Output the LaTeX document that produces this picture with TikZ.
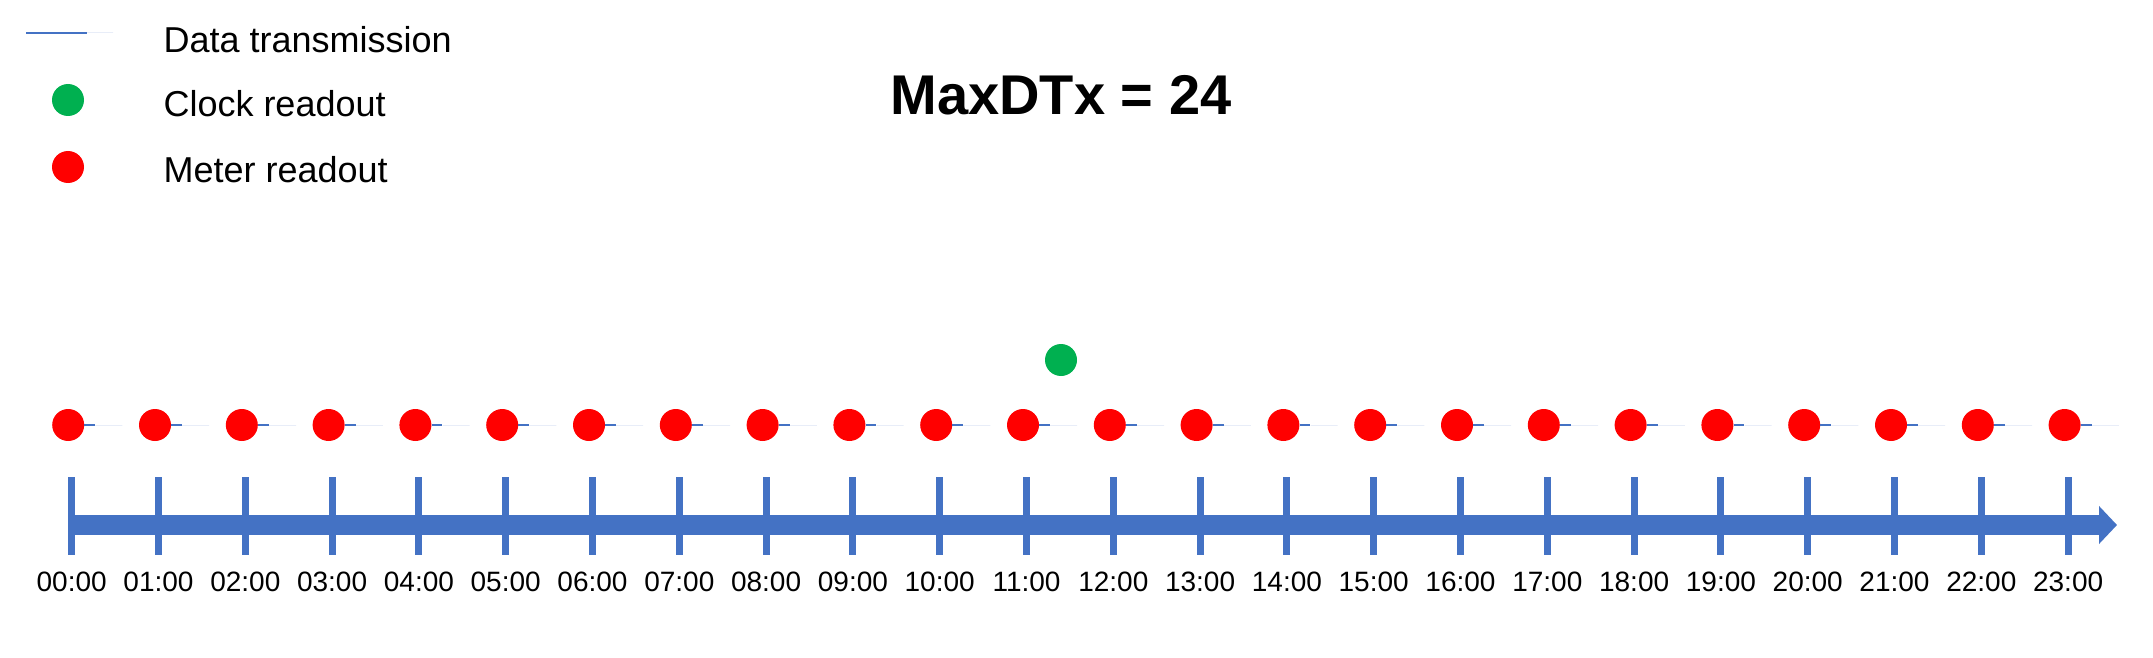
\documentclass[tikz,border=0pt]{standalone}
\usepackage{fontspec}
\setmainfont{Liberation Sans}
\usetikzlibrary{shapes.geometric,arrows.meta}
\definecolor{myblue}{RGB}{68,114,196}
\definecolor{mygreen}{RGB}{0,176,80}
\begin{document}
\begin{tikzpicture}[x=1pt,y=-1pt,
  reddot/.style={circle,fill=red,inner sep=0,minimum size=32pt},
  greendot/.style={circle,fill=mygreen,inner sep=0,minimum size=32pt},
  tri/.style={isosceles triangle,isosceles triangle apex angle=90,fill=myblue,inner sep=0,minimum height=27pt,minimum width=0pt,anchor=west},
  lbl/.style={font=\fontsize{28}{30}\selectfont},
  leg/.style={font=\fontsize{36}{40}\selectfont,anchor=west}]
\useasboundingbox (0,0) rectangle (2153,658);
% legend
\node[tri,minimum height=26pt] (lt) at (87,33) {};
\coordinate (ls) at (26,33);
\draw[myblue,line width=2pt] (ls) -- (lt.west);
\node[leg] (l1) at (160,40) {Data transmission};
\node[greendot] (lg) at (68,100) {};
\node[leg] (l2) at (160,104) {Clock readout};
\node[reddot] (lr) at (68,167) {};
\node[leg] (l3) at (160,170) {Meter readout};
\node[font=\fontsize{56}{60}\selectfont\bfseries] (title) at (1061,95) {MaxDTx = 24};
% axis
\coordinate (a0) at (71,525);
\coordinate (a1) at (2117,525);
\draw[myblue,line width=20pt,-{Triangle[length=18pt,width=37pt]}] (a0) -- (a1);
\foreach \i in {0,...,23}{
  \pgfmathsetmacro{\xx}{71.7+86.8*\i}
  \coordinate (tt\i) at (\xx,477);
  \coordinate (tb\i) at (\xx,555);
  \draw[myblue,line width=7pt] (tt\i) -- (tb\i);
  \node[lbl] (t\i) at (\xx,582) {\ifnum\i<10 0\fi\i:00};
  \node[reddot] (r\i) at (\xx-3.5,425) {};
  \node[tri] (tr\i) at (\xx+23.5,425) {};
  \draw[myblue,line width=2pt] (r\i.east) -- (tr\i.west);
}
\node[greendot] (g) at (1061,360) {};
\end{tikzpicture}
\end{document}
